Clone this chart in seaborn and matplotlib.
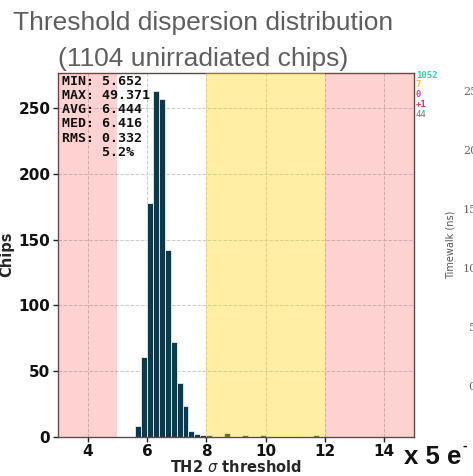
import numpy as np
import pandas as pd
import seaborn as sns
import matplotlib.pyplot as plt

# histogram bins (0.2 wide), only non-empty ones
bin_centers = [5.7, 5.9, 6.1, 6.3, 6.5, 6.7, 6.9, 7.1, 7.3, 7.5, 7.7, 7.9,
               8.1, 8.7, 9.3, 9.9, 11.7]
chip_counts = [8, 61, 178, 263, 257, 142, 72, 41, 23, 4, 2, 1,
               1, 3, 1, 1, 1]

stats_lines = ["MIN: 5.652", "MAX: 49.371", "AVG: 6.444", "MED: 6.416",
               "RMS: 0.332", "     5.2%"]
side_counts = ["1052", "7", "0", "+1", "44"]
side_colors = ["#2fd6a6", "#f2c232", "#e8407a", "#e0305a", "#777777"]

# cut-off neighbouring plot on the slide
tw_ticks = ["25", "20", "15", "10", "5", "0"]

df = pd.DataFrame({"th": bin_centers, "n": chip_counts})

sns.set_style("ticks")
plt.rcParams["font.family"] = ["DejaVu Sans"]

fig = plt.figure(figsize=(4.73, 4.76), dpi=100)
ax = fig.add_axes([0.1226, 0.0826, 0.7524, 0.7646])

sns.histplot(data=df, x="th", weights="n", binwidth=0.2, binrange=(5.6, 12.0),
             color="#0c3a4c", edgecolor="#e8eef0", linewidth=0.6, alpha=1,
             ax=ax, zorder=2)

ax.axvspan(3, 5, color="#ff2020", alpha=0.2, lw=0, zorder=3)
ax.axvspan(12, 15, color="#ff2020", alpha=0.2, lw=0, zorder=3)
ax.axvspan(8, 12, color="#ffd200", alpha=0.36, lw=0, zorder=3)

ax.set_xlim(3, 15)
ax.set_ylim(0, 277)
ax.set_xticks([4, 6, 8, 10, 12, 14])
ax.set_yticks([0, 50, 100, 150, 200, 250])
ax.grid(True, ls="--", color="#cccccc", lw=0.7, zorder=0)
ax.set_axisbelow(True)
for s in ax.spines.values():
    s.set_color("#5a4a4a")
    s.set_linewidth(1.0)
ax.tick_params(labelsize=11, colors="#222222", length=3.5, width=1, pad=2)
for lab in ax.get_xticklabels() + ax.get_yticklabels():
    lab.set_fontweight("bold")
    lab.set_color("#111111")

ax.set_xlabel(r"TH2 $\sigma$ threshold", fontsize=10.5, fontweight="bold", labelpad=0)
ax.set_ylabel("Chips", fontsize=10.5, fontweight="bold", labelpad=3)

ax.text(0.012, 0.995, "\n".join(stats_lines), transform=ax.transAxes,
        ha="left", va="top", family="DejaVu Sans Mono", fontweight="bold",
        fontsize=9.6, linespacing=1.13, color="#111111", zorder=5)

for i, (t, c) in enumerate(zip(side_counts, side_colors)):
    fig.text(0.879, 0.842 - i * 0.0205, t, ha="left", va="center", color=c,
             family="DejaVu Sans Mono", fontweight="bold" if i < 4 else "normal",
             fontsize=6.5)

fig.text(0.43, 0.952, "Threshold dispersion distribution", ha="center",
         va="center", fontsize=19, color="#5f5f5f", family="Liberation Sans")
fig.text(0.43, 0.877, "(1104 unirradiated chips)", ha="center",
         va="center", fontsize=19, color="#5f5f5f", family="Liberation Sans")

fig.text(0.855, 0.040, "x 5 e", ha="left", va="center",
         fontsize=18.5, fontweight="bold", color="#111111", family="Liberation Sans")
fig.text(0.978, 0.064, "-", ha="left", va="center",
         fontsize=10, fontweight="bold", color="#111111", family="Liberation Sans")

fig.text(0.953, 0.485, "Timewalk (ns)", rotation=90, ha="center", va="center",
         fontsize=7, color="#555555", family="DejaVu Sans")
for i, t in enumerate(tw_ticks):
    fig.text(0.979 if len(t) > 1 else 0.991, 0.807 - i * 0.124, t, ha="left",
             va="center", fontsize=8, color="#666666", family="DejaVu Serif")

fig.savefig("out.png", dpi=100)
